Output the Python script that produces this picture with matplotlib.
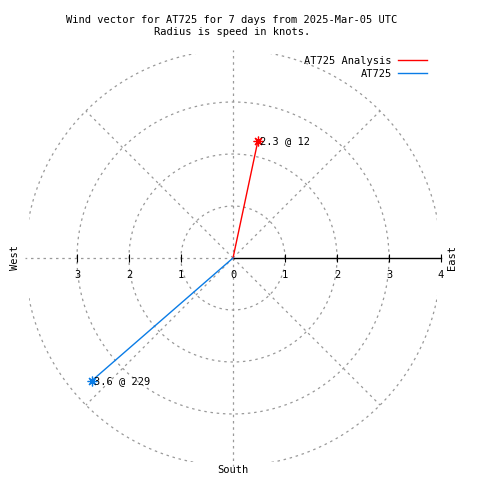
import numpy as np
import matplotlib
matplotlib.use('Agg')
import matplotlib.pyplot as plt

# wind vectors (speed in knots, direction in degrees from north)
names = ['AT725 Analysis', 'AT725']
speeds = [2.3, 3.6]
directions = [12, 229]
colors = ['#ff0000', '#0a7ce6']

rings = [1, 2, 3, 4]
spokes = [0, 45, 90, 135, 180, 225, 270, 315]
tick_vals = [-3, -2, -1, 0, 1, 2, 3, 4]
tick_labels = ['3', '2', '1', '0', '1', '2', '3', '4']

title = 'Wind vector for AT725 for 7 days from 2025-Mar-05 UTC\nRadius is speed in knots.'

plt.rcParams['font.family'] = 'DejaVu Sans Mono'
fs = 7.5

W = 480
px = 52.0          # pixels per knot
lim = 3.93
cx, cy = 233, 258  # centre in pixels (from top-left)

fig = plt.figure(figsize=(4.8, 4.8), dpi=100)
w = 2 * lim * px / W
ax = fig.add_axes([cx / W - w / 2, (W - cy) / W - w / 2, w, w])
ax.set_xlim(-lim, lim)
ax.set_ylim(-lim, lim)
ax.set_aspect('equal')
ax.axis('off')

grid = dict(color='#999999', lw=0.9, linestyle=(0, (2, 3)))

# range rings; outer ring clipped by the plot box
t = np.linspace(0, 2 * np.pi, 721)
for r in rings:
    ax.plot(r * np.cos(t), r * np.sin(t), clip_on=(r == rings[-1]), **grid)

# spokes
for a in spokes:
    if a == 90:
        continue
    ar = np.radians(a)
    ax.plot([0, 4 * np.sin(ar)], [0, 4 * np.cos(ar)], clip_on=False, **grid)

# east axis line with ticks
ax.plot([0, 4], [0, 0], color='black', lw=1.0, clip_on=False)
ax.plot([v for v in tick_vals if v != 0], [0] * (len(tick_vals) - 1), '|',
        color='black', ms=6, mew=0.8, clip_on=False)
for v, lab in zip(tick_vals, tick_labels):
    ax.text(v, -0.32, lab, ha='center', va='center', fontsize=fs, clip_on=False)

ax.text(-4.19, 0, 'West', rotation=90, ha='center', va='center', fontsize=fs)
ax.text(4.21, 0, 'East', rotation=90, ha='center', va='center', fontsize=fs)
ax.text(0, -4.08, 'South', ha='center', va='center', fontsize=fs)

# vectors
for name, s, d, c in zip(names, speeds, directions, colors):
    dr = np.radians(d)
    x, y = s * np.sin(dr), s * np.cos(dr)
    ax.plot([0, x], [0, y], color=c, lw=1.0, label=name, clip_on=False)
    ax.plot([x], [y], marker=(8, 2, 0), color=c, ms=7, mew=0.9, clip_on=False)
    ax.text(x + 0.04, y, f'{s} @ {d}', ha='left', va='center', fontsize=fs)

ax.legend(loc='upper right', bbox_to_anchor=(427 / W, 1 - 56 / W),
          bbox_transform=fig.transFigure, frameon=False, markerfirst=False,
          fontsize=fs, borderpad=0, borderaxespad=0, handlelength=2.8,
          handletextpad=0.6, labelspacing=0.25)

fig.text(232 / W, 1 - 26 / W, title, ha='center', va='center', fontsize=fs,
         linespacing=1.3)

fig.savefig('out.png', dpi=100, facecolor='white')
